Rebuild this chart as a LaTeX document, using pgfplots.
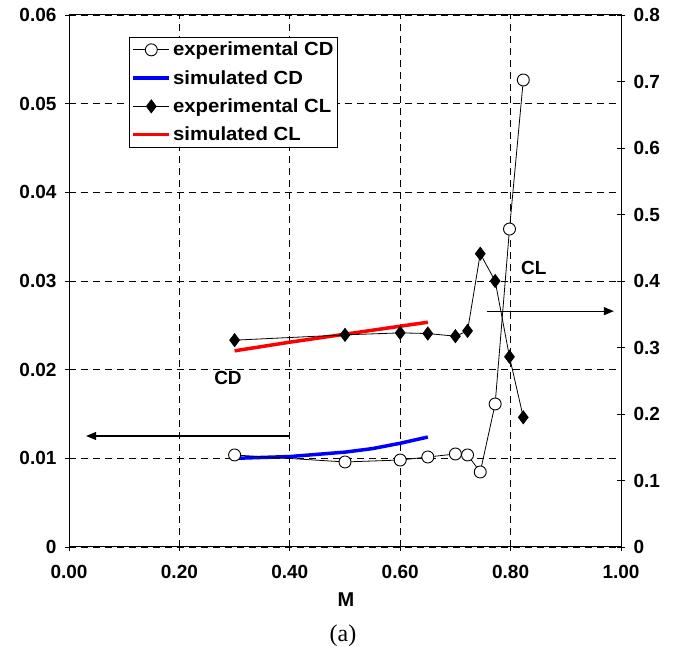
\documentclass[border=0pt]{standalone}
\usepackage{fontspec}
\setmainfont{Liberation Sans}
\newfontfamily\legendfont{Liberation Sans}[FakeStretch=1.07]
\newfontfamily\seriffont{Liberation Serif}
\usepackage{pgfplots}
\pgfplotsset{compat=1.18}
\usetikzlibrary{arrows.meta}

\pgfplotsset{
  base/.style={
    at={(69pt,100pt)}, anchor=south west,
    width=552pt, height=532pt, scale only axis,
    xmin=0, xmax=1,
    axis line style={black, line width=1pt},
    tick style={black, line width=0.8pt},
    major tick length=8pt, tick align=center,
    tick label style={font=\bfseries\fontsize{19}{19}\selectfont},
  },
  legend image code/.code={\draw[mark repeat=2,mark phase=2,#1]
    plot coordinates {(0pt,0pt) (18pt,0pt) (36pt,0pt)};},
}

\begin{document}
\begin{tikzpicture}
\begin{axis}[base,
    ymin=0, ymax=0.06,
    xtick={0,0.2,0.4,0.6,0.8,1},
    xticklabels={0.00,0.20,0.40,0.60,0.80,1.00},
    ytick={0,0.01,0.02,0.03,0.04,0.05,0.06},
    yticklabels={0,0.01,0.02,0.03,0.04,0.05,0.06},
    xtick pos=bottom, ytick pos=left,
    xticklabel style={yshift=-11pt},
    yticklabel style={xshift=-5pt},
    grid=major,
    grid style={black, line width=0.7pt, dash pattern=on 7pt off 5pt},
    clip=false]
  % simulated CD
  \addplot[blue, line width=3.5pt] coordinates {
    (0.30,0.0100) (0.40,0.0102) (0.50,0.0107) (0.55,0.0111) (0.60,0.0117) (0.65,0.0124)};
  % experimental CD
  \addplot[black, line width=0.8pt, mark=*, mark size=6pt,
    mark options={fill=white, draw=black, line width=0.9pt}] coordinates {
    (0.300,0.01038) (0.500,0.00959) (0.600,0.00981) (0.650,0.01015)
    (0.700,0.01049) (0.722,0.01038) (0.745,0.00846) (0.772,0.01613)
    (0.798,0.03586) (0.823,0.05267)};
  \draw[-{Triangle[length=10pt,width=8pt]}, line width=1.2pt]
    (axis cs:0.40,0.01252) -- (axis cs:0.031,0.01252);
  \draw[-{Triangle[length=10pt,width=8pt]}, line width=1.2pt]
    (axis cs:0.757,0.0266) -- (axis cs:0.987,0.0266);
  \node[font=\bfseries\fontsize{19}{19}\selectfont] at (axis cs:0.288,0.0191) {CD};
  \node[font=\bfseries\fontsize{19}{19}\selectfont] at (axis cs:0.842,0.0315) {CL};
\end{axis}
\begin{axis}[base,
    ymin=0, ymax=0.8,
    axis x line=none, axis y line*=right, xtick=\empty,
    ytick={0,0.1,0.2,0.3,0.4,0.5,0.6,0.7,0.8},
    yticklabels={0,0.1,0.2,0.3,0.4,0.5,0.6,0.7,0.8},
    yticklabel style={xshift=5pt},
    legend cell align=left,
    legend style={at={(0.109,0.959)}, anchor=north west, draw=black,
      line width=0.8pt, inner xsep=2pt, inner ysep=3pt,
      font=\legendfont\bfseries\fontsize{19}{19}\selectfont,
      nodes={inner sep=2pt},
      row sep=9pt, /tikz/every even column/.append style={column sep=1pt}}]
  \addlegendimage{black, line width=0.8pt, mark=*, mark size=6pt,
    mark options={fill=white, draw=black, line width=0.9pt}}
  \addlegendentry{experimental CD}
  \addlegendimage{blue, line width=3.5pt}
  \addlegendentry{simulated CD}
  \addlegendimage{black, line width=0.8pt, mark=diamond*, mark size=6.5pt}
  \addlegendentry{experimental CL}
  \addlegendimage{red, line width=3.5pt}
  \addlegendentry{simulated CL}
  % simulated CL
  \addplot[red, line width=3.5pt, forget plot] coordinates {
    (0.30,0.295) (0.40,0.308) (0.50,0.320) (0.60,0.332) (0.65,0.338)};
  % experimental CL
  \addplot[black, line width=0.8pt, mark=diamond*, mark size=6.5pt, forget plot]
    coordinates {
    (0.300,0.311) (0.500,0.319) (0.600,0.322) (0.650,0.321) (0.700,0.317)
    (0.722,0.325) (0.745,0.441) (0.772,0.400) (0.798,0.286) (0.823,0.195)};
\end{axis}
\node[font=\bfseries\fontsize{20}{20}\selectfont] at (346pt,47pt) {M};
\node[font=\seriffont\fontsize{24}{24}\selectfont] at (343pt,11pt) {(a)};
\pgfresetboundingbox
\path (0pt,0pt) rectangle (677pt,647pt);
\end{tikzpicture}
\end{document}
